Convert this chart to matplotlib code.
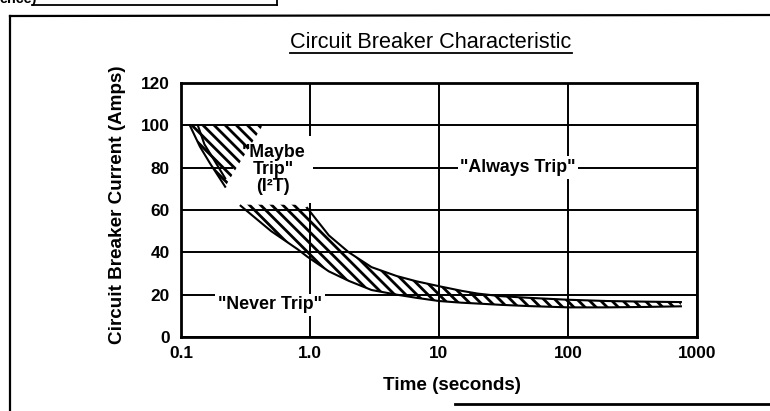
import matplotlib
matplotlib.use("Agg")
import matplotlib.pyplot as plt
from matplotlib.lines import Line2D
from matplotlib.transforms import IdentityTransform

plt.rcParams['font.family'] = ['Liberation Sans', 'DejaVu Sans']
plt.rcParams['hatch.linewidth'] = 2.0

# ---------------- data ----------------
x_ticks = [0.1, 1, 10, 100, 1000]
x_tick_labels = ['0.1', '1.0', '10', '100', '1000']
y_ticks = [0, 20, 40, 60, 80, 100, 120]

# "Maybe trip" (I2T) region, upper left
maybe_I = [71, 82, 90, 100]
maybe_left_t = [0.22, 0.168, 0.14, 0.117]
maybe_right_t = [0.22, 0.283, 0.341, 0.43]
curveB_t = [0.135, 0.152, 0.175, 0.22]
curveB_I = [100, 91, 85, 75]

# main trip band
band_t = [0.29, 0.5, 0.8, 0.95, 1.4, 2.0, 3.0, 4.7, 6.7, 10, 15, 20, 30, 50, 100, 200, 400, 750]
band_lower = [62, 50, 41.5, 38, 31, 26.5, 22.2, 20, 18.5, 17, 16.2, 15.8, 15.2, 14.6, 14, 14, 14.2, 14.5]
band_upper = [62.5, 62.5, 62.5, 61, 48, 40, 33, 28.8, 26.3, 24, 21.8, 20.5, 19.3, 18.5, 17.6, 17, 16.7, 16.5]

title = "Circuit Breaker Characteristic"
xlabel = "Time (seconds)"
ylabel = "Circuit Breaker Current (Amps)"

# ---------------- figure ----------------
DPI = 100
W, H = 770, 411
fig = plt.figure(figsize=(W / DPI, H / DPI), dpi=DPI)
ax = fig.add_axes([181 / W, 1 - 337 / H, 516 / W, 254 / H])

ax.set_xscale('log')
ax.set_xlim(0.1, 1000)
ax.set_ylim(0, 120)
ax.set_xticks(x_ticks)
ax.set_xticklabels(x_tick_labels)
ax.set_yticks(y_ticks)
ax.minorticks_off()
ax.tick_params(length=0, labelsize=12.4)
ax.tick_params(axis='x', pad=6.4)
ax.tick_params(axis='y', pad=8)
for lab in ax.get_xticklabels() + ax.get_yticklabels():
    lab.set_fontweight('bold')

ax.set_axisbelow(True)
ax.grid(True, color='black', lw=1.4)
for sp in ax.spines.values():
    sp.set_linewidth(2.0)
    sp.set_color('black')

# hatched regions
ax.fill_betweenx(maybe_I, maybe_left_t, maybe_right_t, facecolor='none',
                 edgecolor='black', hatch='\\\\\\', linewidth=0, zorder=2)
ax.plot(maybe_left_t, maybe_I, color='black', lw=1.5, zorder=2.5)
ax.plot(curveB_t, curveB_I, color='black', lw=1.5, zorder=2.5)

ax.fill_between(band_t, band_lower, band_upper, facecolor='none',
                edgecolor='black', hatch='\\\\\\', linewidth=0, zorder=2)
ax.plot(band_t, band_lower, color='black', lw=1.5, zorder=2.5)
ax.plot(band_t[3:], band_upper[3:], color='black', lw=1.5, zorder=2.5)

# annotations
ax.text(0.52, 79, '"Maybe\nTrip"\n(I²T)', ha='center', va='center', fontsize=12.8,
        fontweight='bold', linespacing=1.0, zorder=1.5,
        bbox=dict(boxstyle='square,pad=0.45', fc='white', ec='none'))
ax.text(41, 80, '"Always Trip"', ha='center', va='center', fontsize=12.8,
        fontweight='bold', zorder=1.5,
        bbox=dict(boxstyle='square,pad=0.15', fc='white', ec='none'))
ax.text(0.49, 15.2, '"Never Trip"', ha='center', va='center', fontsize=12.8,
        fontweight='bold', zorder=1.5,
        bbox=dict(boxstyle='square,pad=0.15', fc='white', ec='none'))

ax.set_xlabel(xlabel, fontsize=13.6, fontweight='bold')
ax.set_ylabel(ylabel, fontsize=13.6, fontweight='bold')
ax.xaxis.set_label_coords((452 - 181) / 516, (337 - 377) / 254)
ax.yaxis.set_label_coords((126 - 181) / 516, (337 - 205) / 254)

# title with underline
t = fig.text(431 / W, 1 - 42 / H, title, ha='center', va='center', fontsize=15.6)
fig.canvas.draw()
bb = t.get_window_extent()
fig.add_artist(Line2D([bb.x0, bb.x1], [bb.y0 - 1, bb.y0 - 1], transform=IdentityTransform(),
                      color='black', lw=1.3))

# scanned page frame pieces
fig.text(0, 1 - 3 / H, 'ence)', ha='left', va='baseline', fontsize=10.4, fontweight='bold')
fig.add_artist(Line2D([32 / W, 277 / W], [1 - 5 / H, 1 - 5 / H], color='black', lw=1.3))
fig.add_artist(Line2D([277 / W, 277 / W], [1 - 5 / H, 1.0], color='black', lw=1.3))
fig.add_artist(Line2D([10 / W, 1.0], [1 - 16 / H, 1 - 15 / H], color='black', lw=1.6))
fig.add_artist(Line2D([10 / W, 10 / W], [1 - 16 / H, 0.0], color='black', lw=1.6))
fig.add_artist(Line2D([455 / W, 1.0], [1 - 404 / H, 1 - 404 / H], color='black', lw=2.0))

fig.savefig('out.png', dpi=DPI)
